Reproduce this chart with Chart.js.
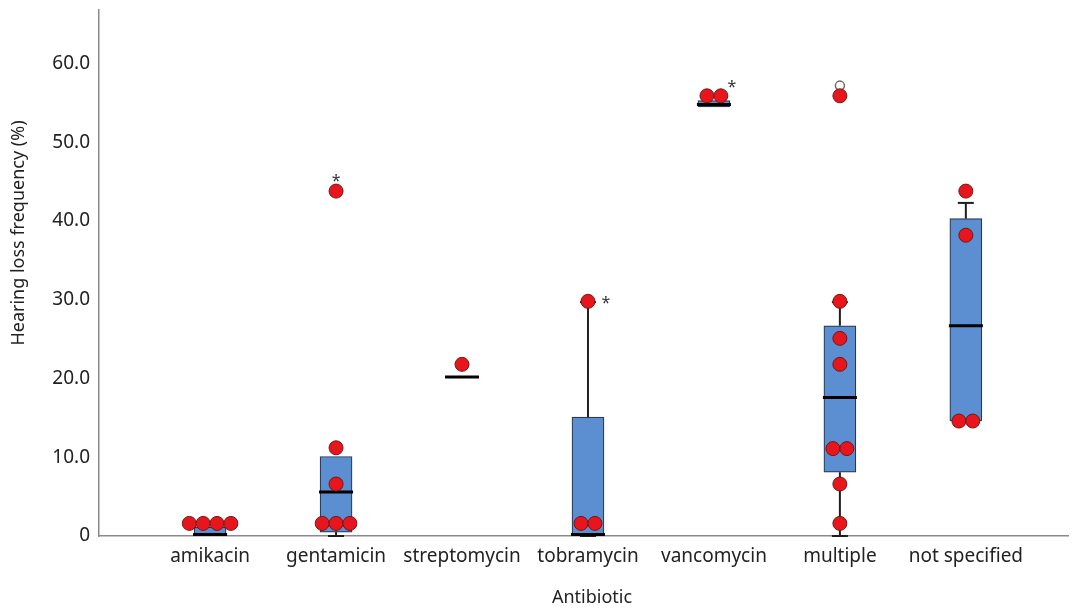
<!DOCTYPE html>
<html>
<head>
<meta charset="utf-8">
<script src="https://cdn.jsdelivr.net/npm/chart.js@4.4.1/dist/chart.umd.min.js"></script>
<style>
  html, body { margin: 0; padding: 0; background: #fff; }
  #wrap { width: 1076px; height: 613px; position: relative; }
</style>
</head>
<body>
<div id="wrap"><canvas id="chart"></canvas></div>
<script>
const categories = ['amikacin', 'gentamicin', 'streptomycin', 'tobramycin', 'vancomycin', 'multiple', 'not specified']
const yTicks = [0, 10, 20, 30, 40, 50, 60]

// box plot summary per antibiotic (null = not drawn)
const whiskerLow = [null, 0, null, 0, null, 0, 14.6]
const boxLow = [0, 0.5, null, 0, 54.5, 8.1, 14.6]
const medians = [0, 5.6, 20.2, 0, 54.8, 17.6, 26.7]
const boxHigh = [1.1, 10.1, null, 15.1, 55.3, 26.7, 40.3]
const whiskerHigh = [null, null, null, 29.7, null, 29.7, 42.3]

// individual study values overlaid on the boxes
const studyValues = [
  [1.6, 1.6, 1.6, 1.6],
  [43.8, 11.2, 6.6, 1.6, 1.6, 1.6],
  [21.8],
  [29.8, 1.6, 1.6],
  [55.9, 55.9],
  [55.9, 29.8, 25.1, 21.8, 11.1, 11.1, 6.6, 1.6],
  [43.8, 38.2, 14.6, 14.6]
]

// extreme (*) and outlier (o) markers
const extremeCats = [1, 3, 4]
const extremeVals = [43.8, 29.8, 55.9]
const outlierCats = [5]
const outlierVals = [57.2]

const BOX_W = 32
const JITTER = 0.11

// spread points with equal value side by side
const scatterData = []
studyValues.forEach((vals, i) => {
  const groups = {}
  vals.forEach(v => { groups[v] = (groups[v] || 0) + 1 })
  const seen = {}
  vals.forEach(v => {
    const n = groups[v]
    const k = seen[v] || 0
    seen[v] = k + 1
    scatterData.push({ x: i + (k - (n - 1) / 2) * JITTER, y: v })
  })
})

const boxData = []
categories.forEach((c, i) => {
  if (boxLow[i] != null) boxData.push({ x: i, y: [boxLow[i], boxHigh[i]] })
})

const boxPlugin = {
  id: 'boxExtras',
  beforeDatasetsDraw(chart) {
    const { ctx, scales: { x, y } } = chart
    ctx.save()
    ctx.strokeStyle = '#1e1e1e'
    ctx.lineWidth = 2
    categories.forEach((c, i) => {
      const px = x.getPixelForValue(i)
      const segs = []
      if (whiskerLow[i] != null) segs.push([whiskerLow[i], boxLow[i]])
      if (whiskerHigh[i] != null) segs.push([boxHigh[i], whiskerHigh[i]])
      segs.forEach(([a, b]) => {
        ctx.beginPath()
        ctx.moveTo(px, y.getPixelForValue(a))
        ctx.lineTo(px, y.getPixelForValue(b))
        ctx.stroke()
      })
      ;[whiskerLow[i], whiskerHigh[i]].forEach(v => {
        if (v == null) return
        const py = y.getPixelForValue(v)
        ctx.beginPath()
        ctx.moveTo(px - 8, py)
        ctx.lineTo(px + 8, py)
        ctx.stroke()
      })
    })
    ctx.restore()
  },
  afterDatasetDraw(chart, args) {
    if (args.meta.type !== 'bar') return
    const { ctx, scales: { x, y } } = chart
    ctx.save()
    ctx.strokeStyle = '#000'
    ctx.lineWidth = 3
    medians.forEach((m, i) => {
      const px = x.getPixelForValue(i)
      const py = y.getPixelForValue(m) - (m === 0 ? 1.5 : 0)
      ctx.beginPath()
      ctx.moveTo(px - BOX_W / 2 - 1, py)
      ctx.lineTo(px + BOX_W / 2 + 1, py)
      ctx.stroke()
    })
    ctx.restore()
  },
  afterDraw(chart) {
    const { ctx, scales: { x, y } } = chart
    ctx.save()
    ctx.fillStyle = '#333'
    ctx.font = '16px "Noto Sans"'
    ctx.textAlign = 'center'
    ctx.textBaseline = 'middle'
    const offs = [[0, -10], [18, 2], [18, -8]]
    extremeCats.forEach((c, k) => {
      ctx.fillText('*', x.getPixelForValue(c) + offs[k][0], y.getPixelForValue(extremeVals[k]) + offs[k][1])
    })
    // axis titles
    ctx.fillStyle = '#222'
    ctx.font = '18px "Noto Sans"'
    ctx.fillText('Antibiotic', 592, 598)
    ctx.translate(19, 233)
    ctx.rotate(-Math.PI / 2)
    ctx.fillText('Hearing loss frequency (%)', 0, 0)
    ctx.restore()
  }
}

new Chart(document.getElementById('chart'), {
  type: 'bar',
  data: {
    datasets: [
      {
        type: 'scatter',
        data: scatterData,
        pointRadius: 7,
        pointHoverRadius: 7,
        backgroundColor: '#e8161c',
        borderColor: '#6e1a14',
        borderWidth: 1
      },
      {
        type: 'scatter',
        data: outlierCats.map((c, k) => ({ x: c, y: outlierVals[k] })),
        pointRadius: 4.5,
        backgroundColor: '#fff',
        borderColor: '#6b6b6b',
        borderWidth: 1.5
      },
      {
        type: 'bar',
        data: boxData,
        barThickness: BOX_W,
        backgroundColor: '#5b8fd1',
        borderColor: '#2a3850',
        borderWidth: 1.2,
        borderSkipped: false
      }
    ]
  },
  options: {
    responsive: true,
    maintainAspectRatio: false,
    animation: false,
    layout: { padding: { top: 10, right: -8, left: 0, bottom: 0 } },
    plugins: { legend: { display: false }, tooltip: { enabled: false } },
    scales: {
      x: {
        type: 'linear',
        min: -0.882,
        max: 6.811,
        offset: false,
        grid: { display: false, drawTicks: false },
        border: { display: true, color: '#8a8a8a', width: 1.5 },
        afterBuildTicks: s => { s.ticks = categories.map((c, i) => ({ value: i })) },
        afterFit: s => { s.height = 77; s.paddingLeft = 0; s.paddingRight = 0 },
        ticks: {
          padding: 9,
          color: '#222',
          font: { family: 'Noto Sans', size: 19 },
          callback: v => categories[v]
        }
      },
      y: {
        min: 0,
        max: 66.8,
        grid: { display: false, drawTicks: false },
        border: { display: true, color: '#8a8a8a', width: 1.5 },
        afterBuildTicks: s => { s.ticks = yTicks.map(v => ({ value: v })) },
        afterFit: s => { s.width = 99; s.paddingTop = 0; s.paddingBottom = 0 },
        ticks: {
          padding: 9,
          color: '#222',
          font: { family: 'Noto Sans', size: 19 },
          callback: v => v === 0 ? '0' : v.toFixed(1)
        }
      }
    }
  },
  plugins: [boxPlugin]
})
</script>
</body>
</html>
